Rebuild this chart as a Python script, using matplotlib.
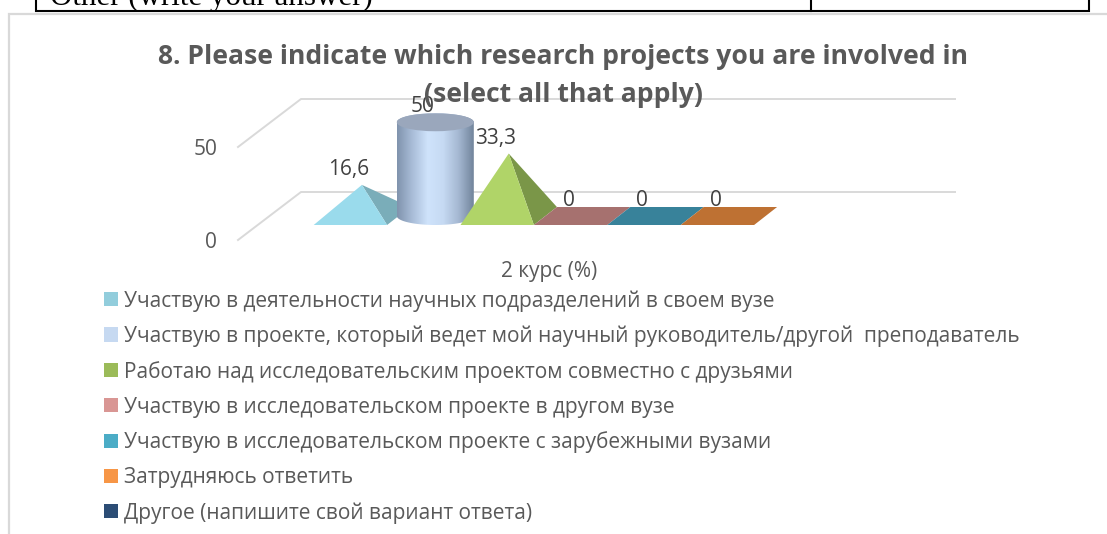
import numpy as np
import matplotlib
matplotlib.use("Agg")
import matplotlib.pyplot as plt
from matplotlib.patches import Polygon, Patch, Ellipse
from matplotlib.colors import LinearSegmentedColormap

# ---- data ----
title = "8. Please indicate which research projects you are involved in\n(select all that apply)"
series_names = [
    "Участвую в деятельности научных подразделений в своем вузе",
    "Участвую в проекте, который ведет мой научный руководитель/другой  преподаватель",
    "Работаю над исследовательским проектом совместно с друзьями",
    "Участвую в исследовательском проекте в другом вузе",
    "Участвую в исследовательском проекте с зарубежными вузами",
    "Затрудняюсь ответить",
    "Другое (напишите свой вариант ответа)",
]
values = [16.6, 50, 33.3, 0, 0, 0]
value_labels = ["16,6", "50", "33,3", "0", "0", "0"]
shapes = ["pyramid", "cylinder", "pyramid", "pyramid", "pyramid", "pyramid"]
category = "2 курс (%)"
y_ticks = [0, 50]
legend_colors = ["#92CDDC", "#C6D9F1", "#9BBB59", "#D99694", "#4BACC6", "#F79646", "#2C4D75"]
front_colors = ["#9ADBEC", "#C6D9F1", "#B0D468", "#D99694", "#4BACC6", "#F79646"]
side_colors = ["#7AADB9", "#8496B0", "#7A9648", "#A6716F", "#38829A", "#BE7133"]
cyl_stops = ["#8093AD", "#A9BDD8", "#CFE3FB", "#C6DAF3", "#A5B8D2", "#71849B"]
cyl_top = "#9AA7BC"

GREY = "#595959"
W, H = 1107, 534
FS = 15
plt.rcParams["font.family"] = ["Open Sans", "DejaVu Sans"]
fig = plt.figure(figsize=(W / 100, H / 100), dpi=100, facecolor="white")

# page furniture: chart frame and the clipped table row above it
bg = fig.add_axes([0, 0, 1, 1])
bg.set_xlim(0, W); bg.set_ylim(H, 0); bg.axis("off")
bg.plot([8.5, 8.5, W], [H, 13.5, 13.5], color="#D9D9D9", lw=1.6, solid_joinstyle="miter")
bg.plot([36, 36, 1089, 1089], [-2, 11, 11, -2], color="black", lw=1.5, solid_joinstyle="miter")
bg.plot([811, 811], [-2, 11], color="black", lw=1.5)
bg.text(50, 5, "Other (write your answer)", family="Liberation Serif", fontsize=22.3,
        color="black", va="baseline", ha="left", clip_on=True)

# back wall and gridlines, on a value scale with real tick labels
PX_PER_UNIT = 1.86
wall = fig.add_axes([238 / W, (H - 240) / H, (955 - 238) / W, 50 * PX_PER_UNIT / H])
wall.set_xlim(0, 1); wall.set_ylim(0, 50)
wall.patch.set_alpha(0)
for s in wall.spines.values():
    s.set_visible(False)
wall.set_xticks([])
wall.set_yticks(y_ticks)
wall.tick_params(axis="y", length=0, pad=15, labelsize=FS, labelcolor=GREY)
wall_dx = 63 / (955 - 238)
wall_dy = 48 / PX_PER_UNIT
for v in y_ticks:
    wall.plot([0, wall_dx, 1], [v, v + wall_dy, v + wall_dy], color="#D9D9D9", lw=1.4, clip_on=False)

# marks, on category/value scales
CAT_W = 73.4
Y_SCALE = 1.875
ax = fig.add_axes([0, 0, 1, 1])
ax.patch.set_alpha(0)
ax.axis("off")
x0 = 350.4
xlim = (-x0 / CAT_W, (W - x0) / CAT_W)
ylim = (-(H - 216) / Y_SCALE, 216 / Y_SCALE)
dx = 23 / CAT_W          # depth shift, category units
dy = 18 / Y_SCALE        # depth shift, value units

cmap_cyl = LinearSegmentedColormap.from_list("cyl", cyl_stops)
z = 3
for i, (val, kind, fc, sc) in enumerate(zip(values, shapes, front_colors, side_colors)):
    l, r = i - 0.5, i + 0.5
    fy, by = -dy / 2, dy / 2
    cx = i + dx / 2
    if kind == "pyramid":
        if val == 0:
            ax.add_patch(Polygon([(l, fy), (r, fy), (r + dx, by), (l + dx, by)],
                                 facecolor=sc, edgecolor="none", zorder=z))
        else:
            ax.add_patch(Polygon([(r, fy), (cx, val), (r + dx, by)],
                                 facecolor=sc, edgecolor="none", zorder=z))
            ax.add_patch(Polygon([(l, fy), (r, fy), (cx, val)],
                                 facecolor=fc, edgecolor="none", zorder=z + 0.1))
    else:
        hw = 38.5 / CAT_W
        t = np.linspace(0, np.pi, 60)
        ex, ey = hw * np.cos(t), (dy / 2) * np.sin(t)
        outline = list(zip(cx + ex, val + ey)) + list(zip(cx - ex, -ey))
        im = ax.imshow(np.linspace(0, 1, 256)[None, :], cmap=cmap_cyl, aspect="auto",
                       extent=(cx - hw, cx + hw, -dy, val + dy), zorder=z)
        clip = Polygon(outline, closed=True, transform=ax.transData, facecolor="none", edgecolor="none")
        ax.add_patch(clip)
        im.set_clip_path(clip)
        ax.add_patch(Ellipse((cx, val), 2 * hw, dy, facecolor=cyl_top, edgecolor="none", zorder=z + 0.1))
    ax.annotate(value_labels[i], (cx, val), xytext=(-9.5, 11), textcoords="offset points",
                ha="center", va="center", fontsize=FS, color="#404040", zorder=20)
    z += 1

ax.set_xlim(*xlim); ax.set_ylim(*ylim)

ax.text((549 - x0) / CAT_W, -(272 - 216) / Y_SCALE, category, ha="center", va="center",
        fontsize=FS, color=GREY, zorder=20)
fig.text(563 / W, 1 - 76 / H, title, ha="center", va="center", fontsize=19.1, fontweight="bold",
         color=GREY, linespacing=1.56, zorder=30)

handles = [Patch(facecolor=c, edgecolor="none", label=n) for c, n in zip(legend_colors, series_names)]
leg = fig.legend(handles=handles, loc="upper left", bbox_to_anchor=(104 / W, 1 - 290 / H),
                 bbox_transform=fig.transFigure, frameon=False, borderaxespad=0, borderpad=0,
                 fontsize=FS, handlelength=0.67, handleheight=0.67, handletextpad=0.28,
                 labelspacing=0.666, labelcolor=GREY)

fig.savefig("out.png", dpi=100, facecolor="white")
